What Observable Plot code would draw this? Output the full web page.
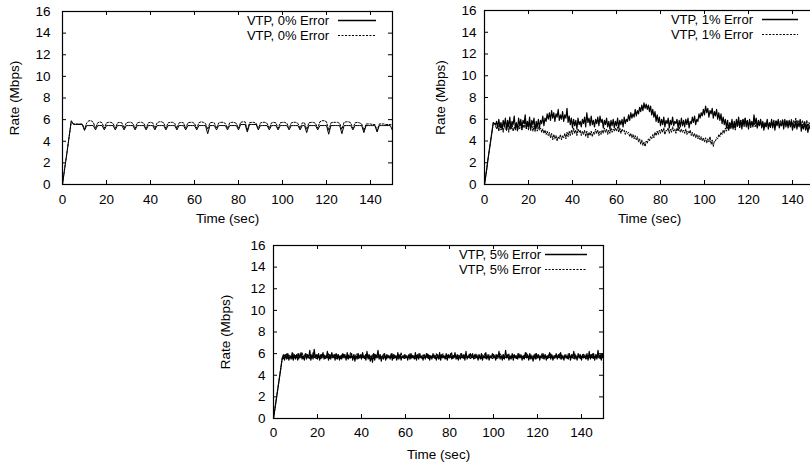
<!DOCTYPE html>
<html><head><meta charset="utf-8">
<script src="https://cdn.jsdelivr.net/npm/d3@7"></script>
<script src="https://cdn.jsdelivr.net/npm/@observablehq/plot@0.6"></script>
<style>
body{margin:0;background:#fff;}
#root{position:relative;width:810px;height:462px;overflow:hidden;background:#fff;}
#root > svg{position:absolute;}
</style></head><body><div id="root"></div>
<script>
// 1-second sample grid (panel 1)
const times = [0,1,2,3,4,5,6,7,8,9,10,11,12,13,14,15,16,17,18,19,20,21,22,23,24,25,26,27,28,29,30,31,32,33,34,35,36,37,38,39,40,41,42,43,44,45,46,47,48,49,50,51,52,53,54,55,56,57,58,59,60,61,62,63,64,65,66,67,68,69,70,71,72,73,74,75,76,77,78,79,80,81,82,83,84,85,86,87,88,89,90,91,92,93,94,95,96,97,98,99,100,101,102,103,104,105,106,107,108,109,110,111,112,113,114,115,116,117,118,119,120,121,122,123,124,125,126,127,128,129,130,131,132,133,134,135,136,137,138,139,140,141,142,143,144,145,146,147,148,149,150];
// half-second sample grid (panels 2 and 3)
const timesHalf = [0,0.5,1,1.5,2,2.5,3,3.5,4,4.5,5,5.5,6,6.5,7,7.5,8,8.5,9,9.5,
10,10.5,11,11.5,12,12.5,13,13.5,14,14.5,15,15.5,16,16.5,17,17.5,18,18.5,19,19.5,
20,20.5,21,21.5,22,22.5,23,23.5,24,24.5,25,25.5,26,26.5,27,27.5,28,28.5,29,29.5,
30,30.5,31,31.5,32,32.5,33,33.5,34,34.5,35,35.5,36,36.5,37,37.5,38,38.5,39,39.5,
40,40.5,41,41.5,42,42.5,43,43.5,44,44.5,45,45.5,46,46.5,47,47.5,48,48.5,49,49.5,
50,50.5,51,51.5,52,52.5,53,53.5,54,54.5,55,55.5,56,56.5,57,57.5,58,58.5,59,59.5,
60,60.5,61,61.5,62,62.5,63,63.5,64,64.5,65,65.5,66,66.5,67,67.5,68,68.5,69,69.5,
70,70.5,71,71.5,72,72.5,73,73.5,74,74.5,75,75.5,76,76.5,77,77.5,78,78.5,79,79.5,
80,80.5,81,81.5,82,82.5,83,83.5,84,84.5,85,85.5,86,86.5,87,87.5,88,88.5,89,89.5,
90,90.5,91,91.5,92,92.5,93,93.5,94,94.5,95,95.5,96,96.5,97,97.5,98,98.5,99,99.5,
100,100.5,101,101.5,102,102.5,103,103.5,104,104.5,105,105.5,106,106.5,107,107.5,108,108.5,109,109.5,
110,110.5,111,111.5,112,112.5,113,113.5,114,114.5,115,115.5,116,116.5,117,117.5,118,118.5,119,119.5,
120,120.5,121,121.5,122,122.5,123,123.5,124,124.5,125,125.5,126,126.5,127,127.5,128,128.5,129,129.5,
130,130.5,131,131.5,132,132.5,133,133.5,134,134.5,135,135.5,136,136.5,137,137.5,138,138.5,139,139.5,
140,140.5,141,141.5,142,142.5,143,143.5,144,144.5,145,145.5,146,146.5,147,147.5,148,148.5,149,149.5,
150];
const xTicks = [0,20,40,60,80,100,120,140];
const yTicks = [0,2,4,6,8,10,12,14,16];
const xLabel = "Time (sec)";
const yLabel = "Rate (Mbps)";
const legendLabels = ["VTP, 0% Error", "VTP, 1% Error", "VTP, 5% Error"];

const solid0 = [0,1.5,2.9,4.4,5.9,5.55,5.55,5.55,5.55,5.55,
5.0,5.45,5.45,5.45,5.45,5.05,5.45,5.45,5.45,5.05,
5.45,5.45,5.45,5.45,5.05,5.45,5.45,5.45,5.05,5.45,
5.45,5.45,5.45,5.05,5.45,5.45,5.45,5.45,5.05,5.45,
5.45,5.45,5.05,5.45,5.45,5.45,5.45,5.05,5.45,5.45,
5.45,5.45,5.05,5.45,5.45,5.45,5.05,5.45,5.45,5.45,
5.45,5.05,5.45,5.45,5.45,5.45,4.7,5.45,5.45,5.45,
5.05,5.45,5.45,5.45,5.45,5.05,5.45,5.45,5.45,5.45,
5.05,5.55,5.55,5.55,4.85,5.55,5.55,5.55,5.55,5.05,
5.45,5.45,5.45,5.45,5.05,5.45,5.45,5.45,5.05,5.45,
5.45,5.45,5.45,5.05,5.45,5.45,5.45,5.45,5.05,5.45,
5.45,4.8,5.45,5.45,5.45,5.45,5.05,5.45,5.45,5.45,
5.45,4.65,5.45,5.45,5.45,5.45,5.45,4.7,5.45,5.45,
5.45,5.45,5.05,5.45,5.45,5.45,5.45,4.8,5.45,5.45,
5.45,5.45,5.45,4.85,5.45,5.45,5.45,5.45,5.45,5.45,
5.0];
const dashed0 = [0,1.5,2.9,4.4,5.85,5.6,5.6,5.6,5.6,5.6,
5.1,5.7,5.9,5.9,5.75,5.2,5.7,5.8,5.7,5.2,
5.7,5.75,5.75,5.65,5.2,5.7,5.75,5.7,5.2,5.7,
5.75,5.75,5.65,5.2,5.7,5.75,5.75,5.65,5.2,5.7,
5.75,5.7,5.2,5.7,5.8,5.8,5.7,5.2,5.7,5.75,
5.75,5.65,5.2,5.7,5.75,5.7,5.2,5.7,5.75,5.75,
5.65,5.2,5.7,5.8,5.75,5.65,5.1,5.7,5.75,5.7,
5.2,5.7,5.75,5.75,5.65,5.2,5.7,5.75,5.75,5.65,
5.2,5.75,5.8,5.8,5.0,5.7,5.75,5.75,5.65,5.2,
5.7,5.75,5.75,5.65,5.2,5.7,5.75,5.7,5.2,5.7,
5.75,5.75,5.65,5.2,5.7,5.75,5.75,5.65,5.2,5.7,
5.7,5.1,5.7,5.75,5.75,5.65,5.2,5.8,5.9,5.9,
5.8,5.0,5.7,5.75,5.75,5.75,5.65,5.1,5.75,5.8,
5.8,5.7,5.2,5.7,5.75,5.7,5.6,5.0,5.6,5.6,
5.6,5.55,5.55,5.0,5.6,5.6,5.6,5.55,5.55,5.55,
5.5];
const solid1 = [0,0.7,1.4,2.2,2.9,3.6,4.3,5.0,5.7,5.6,5.5,5.8,5.2,6.0,5.3,5.7,5.1,5.9,5.4,6.1,
5.0,5.9,5.3,6.2,5.1,5.8,5.5,6.3,5.2,5.7,5.0,6.1,5.4,6.0,5.1,5.9,5.6,6.4,5.2,5.8,
5.3,6.2,5.0,5.9,5.5,6.1,4.9,5.8,5.3,6.0,5.2,5.9,5.6,6.3,5.4,6.1,5.8,6.5,6.0,6.6,
5.9,6.8,6.1,6.6,5.8,6.5,6.2,6.9,5.9,6.4,6.0,6.7,5.8,6.4,6.1,7.0,5.7,6.3,5.5,6.1,
5.2,6.0,5.4,5.9,5.1,6.1,5.5,5.8,5.3,6.0,5.6,6.2,5.3,6.6,5.7,6.1,5.4,6.3,5.5,5.9,
5.3,6.0,5.6,6.2,5.4,6.3,5.7,6.0,5.2,5.9,5.5,6.1,5.3,5.8,5.1,5.9,5.4,6.0,5.2,5.8,
5.4,6.1,5.2,5.9,5.5,6.0,5.3,6.2,5.6,6.0,5.8,6.4,5.9,6.6,6.1,6.5,6.2,6.9,6.3,6.8,
6.5,7.1,6.7,7.3,6.8,7.5,7.0,7.4,6.9,7.3,6.7,7.2,6.4,6.9,6.2,6.7,5.8,6.4,5.7,6.2,
5.4,6.0,5.5,6.2,5.3,5.9,5.6,6.1,5.2,5.9,5.5,6.2,5.4,5.8,5.6,6.0,5.2,5.9,5.3,6.1,
5.4,5.9,5.3,6.0,5.5,6.1,5.2,5.8,5.6,6.2,5.7,6.3,5.5,6.0,5.8,6.5,6.1,6.6,6.3,6.9,
6.4,7.2,6.6,7.0,6.2,6.8,6.5,7.0,6.1,6.7,6.3,6.9,6.0,6.6,5.9,6.5,5.6,6.2,5.5,6.0,
5.2,5.9,5.0,5.7,5.3,6.0,5.1,5.8,5.2,6.0,5.4,6.2,5.3,5.9,5.1,6.0,5.5,6.1,5.3,5.9,
5.1,6.0,5.4,5.8,5.3,6.4,5.6,6.1,5.2,5.9,5.4,6.0,5.2,5.8,5.0,5.7,5.3,6.0,5.1,5.7,
5.3,6.0,5.2,5.9,5.0,5.8,5.4,6.0,5.2,5.6,5.4,5.9,5.1,6.0,5.3,5.8,5.2,5.9,5.3,5.8,
5.0,5.6,5.2,5.8,5.1,5.7,5.3,5.9,4.9,5.5,5.1,5.7,5.0,5.5,4.8,5.4,5.1,5.5,4.8,5.3,
4.9];
const dashed1 = [0,0.7,1.4,2.2,2.9,3.6,4.3,5.0,5.7,5.6,5.4,5.1,5.6,4.9,5.5,5.0,5.4,4.8,5.5,5.1,
5.0,5.5,4.8,5.4,5.1,5.6,4.9,5.3,5.0,5.5,4.9,5.4,5.1,5.7,5.0,5.5,5.2,6.0,5.1,5.6,
5.0,5.6,5.2,5.5,4.9,5.4,5.1,5.5,4.9,5.3,5.0,5.2,4.8,5.1,4.7,5.0,4.6,4.9,4.5,4.8,
4.3,4.7,4.1,4.6,4.2,4.5,4.0,4.4,4.2,4.6,4.1,4.5,4.3,4.7,4.2,4.8,4.4,4.9,4.5,5.0,
4.6,5.2,4.7,5.0,4.5,5.1,4.8,5.0,4.5,4.9,4.6,5.0,4.4,4.9,4.3,4.8,4.5,4.9,4.4,4.8,
4.6,5.1,4.7,5.0,4.5,4.9,4.6,5.0,4.7,5.2,4.8,5.1,4.6,5.0,4.7,5.2,4.8,5.1,4.9,5.2,
4.9,5.3,4.8,5.2,4.7,5.1,4.9,5.0,4.6,4.9,4.7,4.8,4.4,4.7,4.3,4.6,4.2,4.5,4.1,4.4,
3.9,4.2,3.7,4.1,3.6,3.9,3.5,4.0,3.8,4.2,4.0,4.4,4.2,4.6,4.3,4.8,4.5,4.9,4.6,5.0,
4.7,5.1,4.8,5.2,4.6,5.0,4.9,5.2,4.7,5.1,4.8,5.3,4.9,5.1,4.7,5.2,4.9,5.3,4.8,5.1,
4.8,5.0,4.7,5.1,4.6,4.9,4.7,5.0,4.5,4.8,4.4,4.7,4.3,4.6,4.2,4.5,4.1,4.4,4.0,4.3,
3.9,4.3,3.8,4.2,3.9,4.4,3.7,4.1,3.5,4.0,4.0,4.3,4.2,4.6,4.4,4.8,4.6,5.0,4.7,5.2,
4.9,5.3,5.0,5.4,5.1,5.6,5.2,5.5,5.0,5.7,5.3,5.8,5.2,5.9,5.4,6.0,5.3,6.1,5.5,5.9,
5.3,5.8,5.2,5.7,5.4,5.9,5.3,5.7,5.2,5.6,5.4,5.9,5.3,5.7,5.2,5.6,5.3,5.8,5.4,5.6,
5.2,5.8,5.4,5.7,5.3,5.9,5.5,5.8,5.4,5.9,5.5,6.0,5.4,5.8,5.6,5.9,5.4,5.8,5.5,6.0,
5.5,5.9,5.6,6.1,5.5,5.9,5.7,6.0,5.4,5.9,5.5,5.8,5.4,5.9,5.3,5.7,5.4,5.8,5.3,5.7,
5.4];
const solid5 = [0,0.7,1.4,2.1,2.8,3.5,4.2,4.9,5.6,5.9,5.4,5.9,5.5,6.0,5.4,5.8,5.5,6.1,5.4,5.9,
5.5,5.9,5.4,6.0,5.6,6.1,5.5,5.8,5.4,6.0,5.5,5.9,5.6,6.3,5.4,5.9,5.5,6.4,5.6,5.9,
5.5,6.0,5.4,5.9,5.6,6.1,5.5,5.8,5.6,6.2,5.4,5.9,5.5,6.1,5.6,5.9,5.4,6.0,5.5,5.9,
5.4,5.8,5.5,6.0,5.6,5.9,5.4,6.1,5.5,5.8,5.6,6.0,5.4,5.9,5.3,5.8,5.5,6.0,5.6,5.9,
5.5,6.1,5.6,5.8,5.4,6.2,5.5,5.9,5.3,5.8,5.2,6.0,5.4,5.9,5.6,6.3,5.5,5.9,5.3,5.8,
5.5,6.0,5.4,5.9,5.6,5.8,5.5,6.0,5.4,5.9,5.6,5.8,5.4,6.1,5.5,5.9,5.4,5.8,5.6,5.9,
5.6,5.8,5.4,5.9,5.5,6.0,5.6,5.8,5.5,6.1,5.4,5.9,5.5,6.0,5.6,5.8,5.4,5.9,5.5,6.0,
5.6,5.9,5.4,5.8,5.5,6.0,5.6,5.8,5.4,5.9,5.5,6.1,5.4,5.9,5.6,5.8,5.5,6.0,5.4,5.9,
5.6,6.0,5.5,5.8,5.6,6.1,5.5,5.9,5.4,5.8,5.5,6.0,5.6,5.9,5.4,6.2,5.5,5.8,5.6,6.0,
5.6,6.0,5.5,5.9,5.6,5.8,5.4,5.9,5.5,6.0,5.4,5.8,5.6,6.1,5.5,5.9,5.4,5.8,5.6,6.0,
5.6,5.8,5.4,5.9,5.6,6.2,5.5,5.8,5.4,5.9,5.5,6.3,5.6,5.9,5.4,5.8,5.5,6.0,5.4,5.9,
5.6,5.8,5.5,6.0,5.6,5.9,5.4,5.8,5.5,6.1,5.6,5.9,5.4,6.0,5.5,5.8,5.3,5.9,5.5,6.0,
5.6,5.9,5.4,5.8,5.6,6.0,5.5,5.9,5.4,5.8,5.6,6.1,5.5,5.9,5.4,5.8,5.6,6.0,5.5,5.9,
5.6,6.1,5.5,5.8,5.4,5.9,5.6,5.8,5.5,6.0,5.4,5.9,5.6,6.2,5.5,5.8,5.4,6.0,5.6,5.9,
5.4,5.9,5.6,5.8,5.5,6.0,5.4,6.2,5.5,5.9,5.6,6.0,5.4,5.9,5.5,6.3,5.6,5.9,5.4,6.0,
5.6];
const dashed5 = [0,0.7,1.4,2.1,2.8,3.5,4.2,4.9,5.6,5.5,5.9,5.6,6.0,5.5,5.9,5.6,5.8,5.5,6.0,5.6,
5.9,5.6,6.0,5.5,5.8,5.6,6.1,5.5,5.9,5.7,6.0,5.6,5.8,5.5,5.9,5.6,6.1,5.6,5.9,5.5,
5.9,5.6,5.8,5.5,6.0,5.6,5.9,5.5,5.8,5.6,6.0,5.5,5.9,5.6,5.8,5.6,6.0,5.5,5.9,5.6,
5.8,5.5,5.9,5.6,6.0,5.6,5.8,5.5,5.9,5.6,6.1,5.6,5.8,5.5,5.9,5.6,6.0,5.5,5.8,5.6,
5.9,5.6,5.8,5.5,6.0,5.6,5.9,5.5,5.8,5.6,5.9,5.5,6.0,5.6,5.8,5.6,5.9,5.5,5.8,5.6,
6.0,5.6,5.8,5.5,5.9,5.6,5.8,5.6,6.0,5.5,5.9,5.6,5.8,5.5,5.9,5.6,6.1,5.6,5.8,5.5,
5.9,5.6,5.8,5.6,6.0,5.5,5.9,5.6,5.8,5.5,5.9,5.6,6.0,5.6,5.8,5.5,5.9,5.6,5.8,5.6,
6.0,5.5,5.9,5.6,5.8,5.6,5.9,5.5,6.0,5.6,5.8,5.5,5.9,5.6,6.0,5.6,5.8,5.5,5.9,5.6,
5.8,5.6,6.1,5.5,5.9,5.6,5.8,5.5,5.9,5.6,6.0,5.6,5.8,5.5,5.9,5.6,5.8,5.6,6.0,5.5,
5.9,5.6,5.8,5.5,6.0,5.6,5.9,5.6,5.8,5.5,5.9,5.6,6.0,5.5,5.8,5.6,5.9,5.6,5.8,5.5,
6.0,5.6,5.9,5.5,5.8,5.6,6.0,5.6,5.9,5.5,5.8,5.6,5.9,5.6,6.0,5.5,5.8,5.6,5.9,5.6,
5.8,5.5,6.0,5.6,5.9,5.6,5.8,5.5,5.9,5.6,6.1,5.6,5.8,5.5,5.9,5.6,5.8,5.6,6.0,5.5,
5.9,5.6,5.8,5.6,6.0,5.5,5.9,5.6,5.8,5.5,5.9,5.6,6.0,5.6,5.8,5.5,5.9,5.6,5.8,5.6,
6.0,5.5,5.9,5.6,5.8,5.6,5.9,5.5,6.0,5.6,5.8,5.6,5.9,5.5,6.0,5.6,5.8,5.6,5.9,5.5,
5.8,5.6,6.0,5.6,5.9,5.5,5.8,5.6,5.9,5.6,6.0,5.5,5.8,5.6,5.9,5.6,5.8,5.5,6.0,5.6,
5.9];

const FONT = "'Liberation Sans', Arial, Helvetica, sans-serif";
const root = document.getElementById("root");

function panel(cfg) {
  const {t, solid, dashed, label, left, top, width, height, ml, mr, mt, mb, yPad, xPad} = cfg;
  const fw = width - ml - mr, fh = height - mt - mb, tk = 4;
  const rowsS = t.map((x, i) => ({t: x, v: solid[i]}));
  const rowsD = t.map((x, i) => ({t: x, v: dashed[i]}));
  const svg = Plot.plot({
    width, height, marginLeft: ml, marginRight: mr, marginTop: mt, marginBottom: mb,
    style: {fontFamily: FONT, fontSize: "13.5px", background: "white", color: "black", overflow: "visible"},
    x: {domain: [0, 150]},
    y: {domain: [0, 16]},
    marks: [
      Plot.line(rowsD, {x: "t", y: "v", stroke: "black", strokeWidth: 1, strokeDasharray: "2,1.5"}),
      Plot.line(rowsS, {x: "t", y: "v", stroke: "black", strokeWidth: cfg.sw}),
      Plot.tickY(yTicks, {y: d => d, insetRight: fw - tk, stroke: "black"}),
      Plot.tickY(yTicks, {y: d => d, insetLeft: fw - tk, stroke: "black"}),
      Plot.tickX(xTicks, {x: d => d, insetTop: fh - tk, stroke: "black"}),
      Plot.tickX(xTicks, {x: d => d, insetBottom: fh - tk, stroke: "black"}),
      Plot.frame({stroke: "black", strokeWidth: 1.2}),
      Plot.axisX({ticks: xTicks, tickSize: 0, tickPadding: xPad, fontSize: 13.5, label: xLabel, labelAnchor: "center", labelArrow: "none", labelOffset: cfg.xLabOff}),
      Plot.axisY({ticks: yTicks, tickSize: 0, tickPadding: yPad, fontSize: 13.5, label: yLabel, labelAnchor: "center", labelArrow: "none", labelOffset: cfg.yLabOff})
    ]
  });
  svg.style.left = left + "px";
  svg.style.top = top + "px";
  // legend inside the frame, top-right
  const right = width - mr;
  const g = d3.select(svg).append("g").attr("font-family", FONT).attr("font-size", 13).attr("fill", "black");
  [0, 1].forEach(i => {
    const y = mt + 9.5 + i * 15;
    g.append("text").attr("x", right - cfg.textEnd).attr("y", y).attr("dy", "0.35em").attr("text-anchor", "end").text(label);
    g.append("line").attr("x1", right - cfg.sampleStart).attr("x2", right - 16).attr("y1", y).attr("y2", y)
      .attr("stroke", "black").attr("stroke-width", i ? 1 : 1.3).attr("stroke-dasharray", i ? "2,1.5" : null);
  });
  root.appendChild(svg);
}

panel({t: times, solid: solid0, dashed: dashed0, label: legendLabels[0], left: 0, top: 0, width: 400, height: 232, sw: 1,
  ml: 62, mr: 8, mt: 11, mb: 48, yPad: 12, xPad: 10, xLabOff: 38, yLabOff: 53, textEnd: 63, sampleStart: 54});
panel({t: timesHalf, solid: solid1, dashed: dashed1, label: legendLabels[1], left: 400, top: 0, width: 420, height: 232, sw: 1.2,
  ml: 84, mr: 6, mt: 10, mb: 48, yPad: 8, xPad: 10, xLabOff: 38, yLabOff: 49, textEnd: 61, sampleStart: 52});
panel({t: timesHalf, solid: solid5, dashed: dashed5, label: legendLabels[2], left: 200, top: 230, width: 410, height: 232, sw: 1.2,
  ml: 73, mr: 7, mt: 15, mb: 44, yPad: 8, xPad: 9, xLabOff: 40, yLabOff: 53, textEnd: 62, sampleStart: 58});
</script>
</body></html>
